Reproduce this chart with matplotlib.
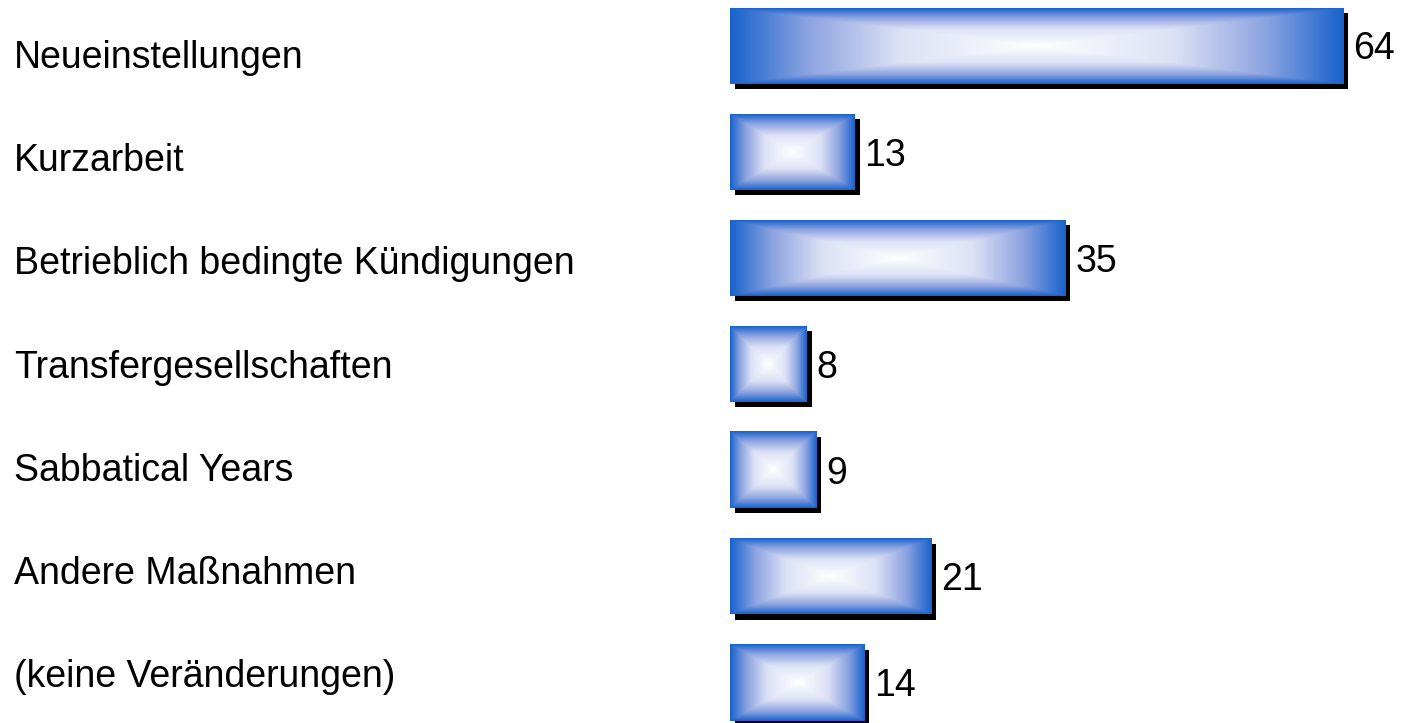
import numpy as np
import matplotlib
matplotlib.use("Agg")
import matplotlib.pyplot as plt
from matplotlib.patches import Rectangle
from matplotlib.colors import LinearSegmentedColormap

# -----------------------------
# Data
# -----------------------------
categories = [
    "Neueinstellungen",
    "Kurzarbeit",
    "Betrieblich bedingte Kündigungen",
    "Transfergesellschaften",
    "Sabbatical Years",
    "Andere Maßnahmen",
    "(keine Veränderungen)",
]
values = [64, 13, 35, 8, 9, 21, 14]

plt.rcParams["font.family"] = ["Liberation Sans", "DejaVu Sans"]

W, H = 1407, 723
fig = plt.figure(figsize=(W / 100, H / 100), dpi=100)
ax = fig.add_axes([0, 0, 1, 1])

# scale: bar base at pixel 730, ~9.58 px per unit, rows ~106.1 px apart
px_per_unit = 9.58
row_px = 106.1
first_center = 46
xlim = (-730 / px_per_unit, (W - 730) / px_per_unit)
ylim = ((H - first_center) / row_px, -first_center / row_px)

bar_h = 76 / row_px
dx_shadow = 5 / px_per_unit
dy_shadow = 5 / row_px

blue = (0.10, 0.39, 0.80)
cmap = LinearSegmentedColormap.from_list(
    "grad", [(0.0, (1, 1, 1)), (0.45, (0.86, 0.88, 0.96)),
             (0.75, (0.55, 0.64, 0.88)), (1.0, blue)])

# rectangular "from center" gradient
n = 300
u = np.linspace(-1, 1, n)
U, V = np.meshgrid(u, u)
grad = np.maximum(np.abs(U), np.abs(V))

cap_half = 13.4 / row_px  # half cap height of 27pt text, in row units

for i, (cat, val) in enumerate(zip(categories, values)):
    top = i - bar_h / 2
    # shadow
    ax.add_patch(Rectangle((dx_shadow, top + dy_shadow), val, bar_h,
                           facecolor="black", edgecolor="none", zorder=1))
    # gradient bar
    ax.imshow(grad, cmap=cmap, vmin=0, vmax=1,
              extent=(0, val, i + bar_h / 2, top),
              aspect="auto", interpolation="bilinear", zorder=2)
    # value label
    ax.text(val + 1.05, i + cap_half, str(val), ha="left", va="baseline",
            fontsize=27, color="black")

# category labels sit on their own grid, slightly tighter than the bars
for i, cat in enumerate(categories):
    baseline_px = 68 + 103.2 * i
    ax.text(14 / W, 1 - baseline_px / H, cat, transform=ax.transAxes,
            ha="left", va="baseline", fontsize=27, color="black")

ax.set_xlim(*xlim)
ax.set_ylim(*ylim)
ax.axis("off")

fig.savefig("out.png", dpi=100)
